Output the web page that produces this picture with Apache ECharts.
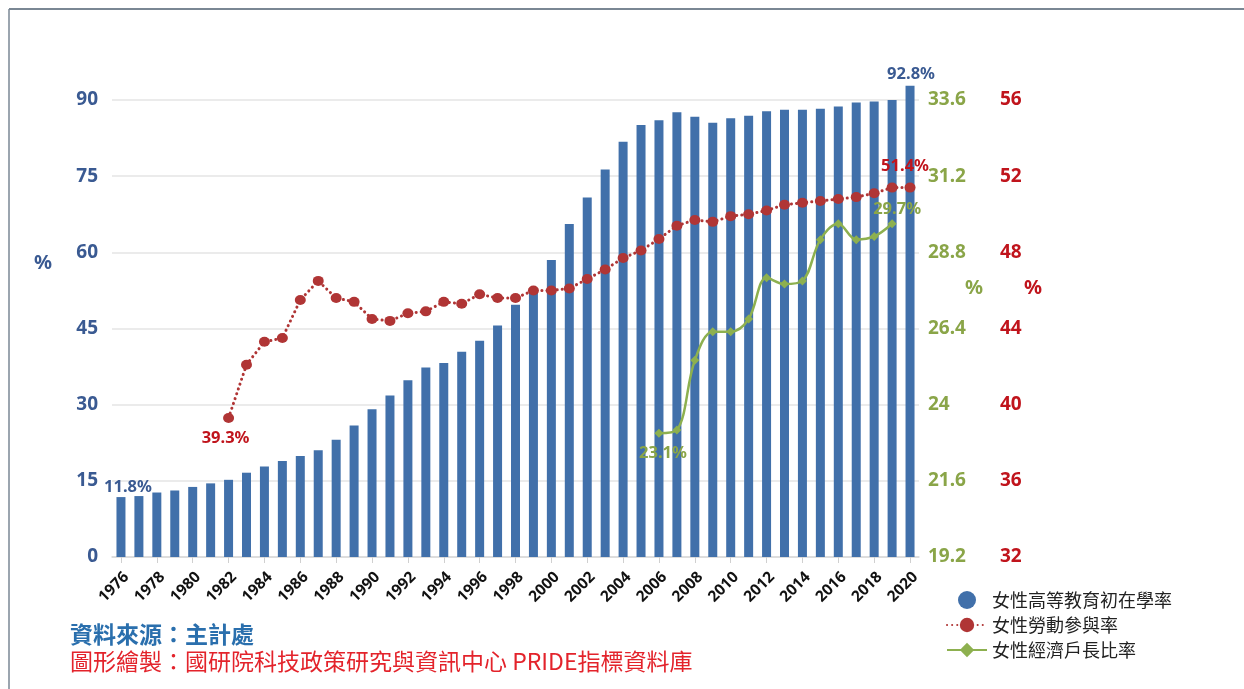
<!DOCTYPE html>
<html>
<head>
<meta charset="utf-8">
<title>女性高等教育、勞動參與與經濟戶長比率</title>
<script src="https://cdn.jsdelivr.net/npm/echarts@6/dist/echarts.min.js"></script>
<style>
  html, body { margin: 0; padding: 0; background: #ffffff; }
  #chart { width: 1244px; height: 689px; }
</style>
</head>
<body>
<div id="chart"></div>
<script>
// Years 1976–2020
const years = [];
for (let y = 1976; y <= 2020; y++) years.push(String(y));

// 女性高等教育初在學率 (%)
const eduRate = [
  11.8, 12.0, 12.7, 13.1, 13.8, 14.5, 15.2, 16.6, 17.8, 18.9,
  19.9, 21.0, 23.1, 25.9, 29.1, 31.8, 34.8, 37.3, 38.2, 40.4,
  42.6, 45.6, 49.7, 53.0, 58.5, 65.6, 70.8, 76.3, 81.8, 85.1,
  86.0, 87.6, 86.7, 85.5, 86.4, 86.9, 87.8, 88.1, 88.1, 88.3,
  88.7, 89.5, 89.7, 90.0, 92.8
];

// 女性勞動參與率 (%), 1982 起
const laborRate = [
  null, null, null, null, null, null,
  39.3, 42.1, 43.3, 43.5, 45.5, 46.5, 45.6, 45.4, 44.5, 44.4,
  44.8, 44.9, 45.4, 45.3, 45.8, 45.6, 45.6, 46.0, 46.0, 46.1,
  46.6, 47.1, 47.7, 48.1, 48.7, 49.4, 49.7, 49.6, 49.9, 50.0,
  50.2, 50.5, 50.6, 50.7, 50.8, 50.9, 51.1, 51.4, 51.4
];

// 女性經濟戶長比率 (%), 2006–2019
const headRate = [
  null, null, null, null, null, null, null, null, null, null,
  null, null, null, null, null, null, null, null, null, null,
  null, null, null, null, null, null, null, null, null, null,
  23.1, 23.2, 25.4, 26.3, 26.3, 26.7, 28.0, 27.8, 27.9, 29.2,
  29.7, 29.2, 29.3, 29.7, null
];

// Axis ranges and ticks
const leftAxis  = { min: 0,    max: 90,   interval: 15 };
const greenAxis = { min: 19.2, max: 33.6, interval: 2.4 };
const redAxis   = { min: 32,   max: 56,   interval: 4 };

const seriesNames = ['女性高等教育初在學率', '女性勞動參與率', '女性經濟戶長比率'];

const blue = '#4170aa';
const blueText = '#3a5a92';
const red = '#b03535';
const redText = '#c0141c';
const green = '#8db04f';
const greenText = '#8aa548';

const fontFamily = '"Noto Sans", "Noto Sans CJK TC", sans-serif';

// Attach a value label to selected points
function withLabels(values, labelled) {
  return values.map((v, i) => {
    if (v == null || !labelled[i]) return v;
    return { value: v, label: Object.assign({ show: true, formatter: p => p.value.toFixed(1) + '%' }, labelled[i]) };
  });
}

const labelFont = { fontFamily: fontFamily, fontSize: 16.5, fontWeight: 'bold' };

const eduData = withLabels(eduRate, {
  0:  Object.assign({ position: 'top', distance: 2, offset: [7, 0], color: blueText }, labelFont),
  44: Object.assign({ position: 'top', distance: 3, offset: [1, 0], color: blueText }, labelFont)
});
const laborData = withLabels(laborRate, {
  6:  Object.assign({ position: 'bottom', distance: 7, offset: [-3, 0], color: redText }, labelFont),
  44: Object.assign({ position: 'top', distance: 8, offset: [-5, 0], color: redText }, labelFont)
});
const headData = withLabels(headRate, {
  30: Object.assign({ position: 'bottom', distance: 7, offset: [4, 0], color: greenText }, labelFont),
  43: Object.assign({ position: 'top', distance: 2, offset: [5, 0], color: greenText }, labelFont)
});

const fmt1 = v => String(+v.toFixed(1));

const chart = echarts.init(document.getElementById('chart'), null, { renderer: 'canvas' });

chart.setOption({
  backgroundColor: '#ffffff',
  animation: false,
  textStyle: { fontFamily: fontFamily },
  grid: { left: 112, right: 325, top: 100, bottom: 132, containLabel: false },
  legend: {
    orient: 'vertical',
    left: 941,
    top: 586,
    itemWidth: 40,
    itemHeight: 18,
    itemGap: 7,
    textStyle: { fontFamily: '"Noto Sans CJK TC", sans-serif', fontSize: 18, color: '#222' },
    data: [
      { name: seriesNames[0], icon: 'circle' },
      { name: seriesNames[1] },
      { name: seriesNames[2] }
    ]
  },
  xAxis: {
    type: 'category',
    data: years,
    boundaryGap: true,
    axisLine: { lineStyle: { color: '#d9d9d9', width: 1.5 } },
    axisTick: { show: true, alignWithLabel: true, interval: 1, length: 6, lineStyle: { color: '#d0d0d0' } },
    axisLabel: {
      interval: 1,
      rotate: 45,
      margin: 12,
      verticalAlign: 'top',
      color: '#111',
      fontSize: 15.5,
      fontWeight: 'bold',
      fontFamily: fontFamily
    },
    splitLine: { show: false }
  },
  yAxis: [
    {
      type: 'value',
      position: 'left',
      min: leftAxis.min, max: leftAxis.max, interval: leftAxis.interval,
      axisLine: { show: false },
      axisTick: { show: false },
      axisLabel: { color: blueText, fontSize: 19, fontWeight: 'bold', margin: 14, fontFamily: fontFamily },
      splitLine: { lineStyle: { color: '#e4e4e4', width: 1.5 } }
    },
    {
      type: 'value',
      position: 'right',
      min: greenAxis.min, max: greenAxis.max, interval: greenAxis.interval,
      axisLine: { show: false },
      axisTick: { show: false },
      axisLabel: { color: greenText, fontSize: 19, fontWeight: 'bold', margin: 9, formatter: fmt1, fontFamily: fontFamily },
      splitLine: { show: false }
    },
    {
      type: 'value',
      position: 'right',
      offset: 72,
      min: redAxis.min, max: redAxis.max, interval: redAxis.interval,
      axisLine: { show: false },
      axisTick: { show: false },
      axisLabel: { color: redText, fontSize: 19, fontWeight: 'bold', margin: 9, fontFamily: fontFamily },
      splitLine: { show: false }
    }
  ],
  series: [
    {
      name: seriesNames[0],
      type: 'bar',
      yAxisIndex: 0,
      data: eduData,
      barWidth: 9,
      clip: false,
      itemStyle: { color: blue },
      z: 1
    },
    {
      name: seriesNames[1],
      type: 'line',
      yAxisIndex: 2,
      data: laborData,
      symbol: 'circle',
      symbolSize: [11, 10],
      itemStyle: { color: red },
      lineStyle: { color: red, width: 3, type: [0.1, 5], cap: 'round' },
      connectNulls: false,
      z: 3
    },
    {
      name: seriesNames[2],
      type: 'line',
      yAxisIndex: 1,
      data: headData,
      smooth: 0.35,
      symbol: 'diamond',
      symbolSize: 9,
      itemStyle: { color: green },
      lineStyle: { color: green, width: 2.5 },
      z: 4
    }
  ],
  graphic: [
    // frame lines
    { type: 'line', shape: { x1: 9, y1: 9, x2: 1244, y2: 9 }, style: { stroke: '#7a8794', lineWidth: 2 } },
    { type: 'line', shape: { x1: 9, y1: 9, x2: 9, y2: 689 }, style: { stroke: '#7a8794', lineWidth: 1.5 } },
    // axis units
    { type: 'text', left: 34, top: 253, style: { text: '%', fill: blueText, font: 'bold 20px ' + fontFamily } },
    { type: 'text', left: 965, top: 278, style: { text: '%', fill: greenText, font: 'bold 20px ' + fontFamily } },
    { type: 'text', left: 1024, top: 278, style: { text: '%', fill: redText, font: 'bold 20px ' + fontFamily } },
    // source notes
    { type: 'text', left: 70, top: 623, style: { text: '資料來源：主計處', fill: '#2a6fad', font: 'bold 23px "Noto Sans CJK TC", sans-serif' } },
    { type: 'text', left: 70, top: 650, style: { text: '圖形繪製：國研院科技政策研究與資訊中心 PRIDE指標資料庫', fill: '#e3232b', font: '23px "Noto Sans CJK TC", sans-serif' } }
  ]
});
</script>
</body>
</html>
